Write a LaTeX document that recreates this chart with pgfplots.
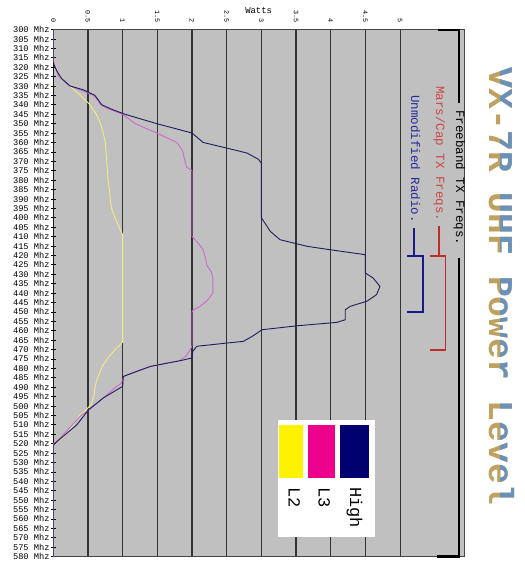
\documentclass[border=0pt]{standalone}
\usepackage{fontspec}
\setmainfont{Liberation Mono}
\usepackage{pgfplots}
\pgfplotsset{compat=1.18}
\definecolor{plotbg}{RGB}{192,192,192}
\definecolor{hicol}{RGB}{30,30,90}
\definecolor{lthree}{RGB}{205,105,205}
\definecolor{ltwo}{RGB}{238,238,130}
\definecolor{gridc}{RGB}{50,50,50}
\definecolor{marsred}{RGB}{205,70,70}
\definecolor{marsline}{RGB}{190,45,45}
\definecolor{unmodblue}{RGB}{40,40,160}
\definecolor{unmodline}{RGB}{25,25,140}
\definecolor{navyc}{RGB}{0,0,110}
\definecolor{tgold}{RGB}{190,160,95}
\definecolor{tblue}{RGB}{105,145,185}
\begin{document}
\begin{tikzpicture}
\begin{axis}[
  at={(53.3bp,19.5bp)}, anchor=south west,
  scale only axis, width=410.7bp, height=527bp,
  xmin=0, xmax=5.922, ymin=300, ymax=580, y dir=reverse,
  axis background/.style={fill=plotbg},
  xtick={0,0.5,1,1.5,2,2.5,3,3.5,4,4.5,5},
  xticklabels={0,0.5,1,1.5,2,2.5,3,3.5,4,4.5,5},
  xticklabel pos=upper,
  xtick style={draw=none},
  xticklabel style={yshift=1bp, rotate=-90, anchor=east, font=\fontsize{6.8bp}{7bp}\selectfont},
  ytick={300,305,...,580},
  ytick pos=left,
  yticklabel={\pgfmathprintnumber[assume math mode=true]{\tick}\ Mhz},
  yticklabel style={font=\fontsize{8.7bp}{9bp}\selectfont, inner sep=1bp},
  tick align=center, major tick length=5bp,
  ytick style={black, line width=0.6bp},
  xmajorgrids, grid style={gridc, line width=1.1bp},
  axis line style={draw=gray!55!black, line width=0.8bp},
  xlabel={Watts},
  xlabel style={at={(axis description cs:0.5,1)}, anchor=south, yshift=12bp, font=\fontsize{8.9bp}{10bp}\selectfont},
]
\draw[black, line width=1bp] (axis cs:0,300) -- (axis cs:0,580);
% L2
\addplot[ltwo, line width=0.9bp] coordinates {
(0,300) (0,314) (0.02,318) (0.05,322) (0.1,325) (0.18,328) (0.3,332) (0.42,336) (0.53,340) (0.62,345) (0.68,350) (0.72,355) (0.75,360) (0.76,365) (0.77,370) (0.78,375) (0.79,380) (0.81,385) (0.82,390) (0.84,395) (0.89,400) (0.95,405) (1.0,409) (1.0,466) (0.95,468) (0.89,470) (0.8,474) (0.72,478) (0.67,482) (0.63,486) (0.6,490) (0.59,494) (0.55,499) (0.45,503) (0.38,505) (0.29,510) (0.19,515) (0.1,518) (0.01,520) (0,521) (0,580)
};
% L3
\addplot[lthree, line width=0.9bp] coordinates {
(0,300) (0,316) (0.03,320) (0.08,325) (0.2,329) (0.3,331) (0.45,333) (0.58,335) (0.65,338) (0.68,340) (0.78,342) (1.0,345) (1.18,350) (1.49,355) (1.78,360) (1.86,364) (1.9,370) (1.92,373) (2.0,375) (2.0,410) (2.1,414) (2.16,417) (2.2,422) (2.21,425) (2.28,429) (2.3,432) (2.3,440) (2.22,444) (2.12,447) (2.02,449) (2.0,450) (2.0,468) (1.96,471) (1.91,473.6) (1.82,476) (1.6,477.5) (1.4,479) (1.2,481.5) (1.02,484.3) (0.98,488) (0.9,490) (0.72,495.8) (0.52,502) (0.4,505) (0.3,509) (0.2,513) (0.1,517) (0.01,520) (0,521) (0,580)
};
% High
\addplot[hicol, line width=0.9bp] coordinates {
(0,300) (0,318) (0.05,322) (0.12,326) (0.24,330) (0.43,332) (0.6,335) (0.7,340) (0.85,342.5) (1.03,345) (1.49,350) (2.0,355) (2.16,360) (2.5,363) (2.79,365.6) (2.96,369) (3.0,371) (3.0,400) (3.13,407.3) (3.27,411.7) (3.66,415.2) (3.99,417) (4.49,419.6) (4.5,420) (4.5,429.4) (4.61,432) (4.71,436.5) (4.66,440.9) (4.52,444.4) (4.28,447.1) (4.21,448.9) (4.21,454.2) (4.09,455.6) (3.52,457.4) (3.01,459.5) (2.87,463) (2.74,465.7) (2.5,466.6) (2.07,468.3) (2.01,471) (2.0,474.5) (1.85,475.8) (1.4,479) (1.01,484.3) (1.0,489.6) (0.72,495.8) (0.51,502) (0.34,510) (0.18,515) (0.02,520) (0,521) (0,580)
};
\end{axis}
\begin{scope}[x=1bp, y=-1bp, shift={(0bp,576bp)}]
% legend
\fill[white] (278.3,420) rectangle (375,536.7);
\fill[yellow] (279.3,425) rectangle (302.7,478.3);
\fill[magenta] (308.3,425) rectangle (335,478.3);
\fill[navyc] (340,424.7) rectangle (369.3,478.3);
\node[rotate=-90, anchor=base west, inner sep=0, font=\fontsize{17bp}{20bp}\selectfont] at (288.5,487) {L2};
\node[rotate=-90, anchor=base west, inner sep=0, font=\fontsize{17bp}{20bp}\selectfont] at (318.5,487) {L3};
\node[rotate=-90, anchor=base west, inner sep=0, font=\fontsize{17bp}{20bp}\selectfont] at (350,487) {High};
% brackets
\draw[black, line width=2bp] (438,29.7) -- (459.3,29.7) -- (459.3,103);
\draw[black, line width=2bp] (459.3,258) -- (459.3,556.5) -- (436.7,556.5);
\node[rotate=-90, font=\fontsize{12.5bp}{14bp}\selectfont] at (459.3,178) {Freeband TX Freqs.};
\node[rotate=-90, text=marsred, font=\fontsize{12.5bp}{14bp}\selectfont] at (439.3,154) {Mars/Cap TX Freqs.};
\draw[marsline, line width=1.8bp] (439.3,226) -- (439.3,255.7);
\draw[marsline, line width=1.8bp, line join=miter] (430,255.7) -- (445.5,255.7) -- (445.5,349.8) -- (430,349.8);
\node[rotate=-90, text=unmodblue, font=\fontsize{12.5bp}{14bp}\selectfont] at (415.5,159) {Unmodified Radio.};
\draw[unmodline, line width=1.8bp] (414.3,228) -- (414.3,255.7);
\draw[unmodline, line width=1.8bp, line join=miter] (407,255.7) -- (422.7,255.7) -- (422.7,312.2) -- (407,312.2);
% title
\node[rotate=-90, text=tgold, font=\fontsize{34.7bp}{40bp}\selectfont\bfseries] at (501.5,286.5) {VX-7R UHF Power Level};
\begin{scope}
\clip (500,0) rectangle (525,576);
\node[rotate=-90, text=tblue, font=\fontsize{34.7bp}{40bp}\selectfont\bfseries] at (501.5,286.5) {VX-7R UHF Power Level};
\end{scope}
\pgfresetboundingbox
\path (0,0) rectangle (525,576);
\end{scope}
\end{tikzpicture}
\end{document}
